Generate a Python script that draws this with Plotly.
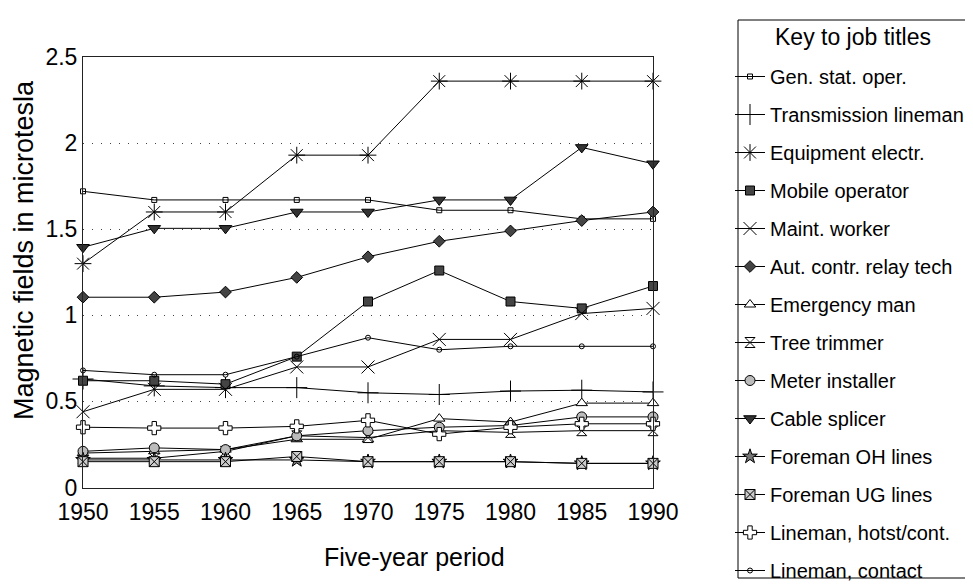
import plotly.graph_objects as go

years = [1950, 1955, 1960, 1965, 1970, 1975, 1980, 1985, 1990]

gen_stat_oper = [1.72, 1.67, 1.67, 1.67, 1.67, 1.61, 1.61, 1.56, 1.56]
transmission_lineman = [0.63, 0.59, 0.58, 0.58, 0.55, 0.54, 0.56, 0.565, 0.555]
equipment_electr = [1.30, 1.60, 1.60, 1.93, 1.93, 2.36, 2.36, 2.36, 2.36]
mobile_operator = [0.62, 0.62, 0.60, 0.76, 1.08, 1.26, 1.08, 1.04, 1.17]
maint_worker = [0.44, 0.57, 0.57, 0.70, 0.70, 0.86, 0.86, 1.01, 1.04]
relay_tech = [1.105, 1.105, 1.135, 1.22, 1.34, 1.43, 1.49, 1.55, 1.60]
emergency_man = [0.20, 0.21, 0.22, 0.28, 0.28, 0.40, 0.38, 0.49, 0.49]
tree_trimmer = [0.17, 0.17, 0.21, 0.30, 0.29, 0.33, 0.32, 0.33, 0.33]
meter_installer = [0.21, 0.23, 0.22, 0.30, 0.33, 0.35, 0.36, 0.41, 0.41]
cable_splicer = [1.395, 1.505, 1.505, 1.60, 1.60, 1.67, 1.67, 1.975, 1.88]
foreman_oh = [0.16, 0.16, 0.16, 0.16, 0.15, 0.15, 0.15, 0.14, 0.14]
foreman_ug = [0.15, 0.15, 0.15, 0.18, 0.15, 0.15, 0.15, 0.14, 0.14]
lineman_hotst = [0.35, 0.345, 0.345, 0.355, 0.39, 0.31, 0.35, 0.37, 0.37]
lineman_contact = [0.68, 0.655, 0.655, 0.76, 0.87, 0.80, 0.82, 0.82, 0.82]

x_ticks = [1950, 1955, 1960, 1965, 1970, 1975, 1980, 1985, 1990]
y_ticks = [0, 0.5, 1, 1.5, 2, 2.5]
y_tick_labels = ["0", "0.5", "1", "1.5", "2", "2.5"]

series = [
    ("Gen. stat. oper.", gen_stat_oper, "square-open", 5, None),
    ("Transmission lineman", transmission_lineman, "cross-thin-open", 15, None),
    ("Equipment electr.", equipment_electr, "asterisk-open", 14, None),
    ("Mobile operator", mobile_operator, "square", 9, "#444"),
    ("Maint. worker", maint_worker, "x-thin-open", 13, None),
    ("Aut. contr. relay tech", relay_tech, "diamond", 9, "#444"),
    ("Emergency man", emergency_man, "triangle-up", 10, "#fff"),
    ("Tree trimmer", tree_trimmer, "hourglass", 10, "#fff"),
    ("Meter installer", meter_installer, "circle", 10, "#bbb"),
    ("Cable splicer", cable_splicer, "triangle-down", 11, "#333"),
    ("Foreman OH lines", foreman_oh, "star", 11, "#777"),
    ("Foreman UG lines", foreman_ug, "square-x", 10, "#ccc"),
    ("Lineman, hotst/cont.", lineman_hotst, "cross", 11, "#fff"),
    ("Lineman, contact", lineman_contact, "circle-open", 5, None),
]

# The page body has an 8px margin: lay the figure out in screen pixels minus it.
OFF = 8
W, H = 973 - OFF, 587 - OFF
ML, MR, MT, MB = 83 - OFF, 320, 2, 2
PW = W - ML - MR
PH = H - MT - MB
AX_BOTTOM, AX_TOP = 487.5, 57.0   # screen pixels


def px_x(p):
    return (p - OFF - ML) / PW


def px_y(p):
    return (H - MB - (p - OFF)) / PH


fig = go.Figure()
for i, (name, vals, sym, size, fc) in enumerate(series):
    fig.add_trace(go.Scatter(
        x=years, y=vals, name=name, mode="lines+markers",
        line=dict(color="#000", width=1),
        marker=dict(symbol=sym, size=size, color=fc if fc else "#000",
                    line=dict(color="#000", width=1)),
        legendgroup=f"g{i}", cliponaxis=False,
    ))

fig.update_layout(
    width=W, height=H,
    margin=dict(l=ML, r=MR, t=MT, b=MB, autoexpand=False),
    paper_bgcolor="white", plot_bgcolor="white",
    font=dict(family="Liberation Sans, Arial, sans-serif", color="#000"),
    showlegend=True,
    legend=dict(
        x=px_x(730), y=px_y(57), xanchor="left", yanchor="top",
        font=dict(size=20, color="#000"),
        tracegroupgap=9, bgcolor="rgba(0,0,0,0)", borderwidth=0,
        itemwidth=30,
    ),
    xaxis=dict(
        range=[1950, 1990], tickmode="array", tickvals=x_ticks,
        ticks="", showgrid=False, zeroline=False, automargin=False,
        showline=True, linecolor="#222", linewidth=1, mirror=True,
        tickfont=dict(size=23), anchor="y", ticklabelstandoff=4,
    ),
    yaxis=dict(
        domain=[px_y(AX_BOTTOM), px_y(AX_TOP)],
        range=[0, 2.5], tickmode="array", tickvals=y_ticks, ticktext=y_tick_labels,
        ticks="", showgrid=True, gridcolor="#444", gridwidth=1, griddash="1px,8px",
        zeroline=False, automargin=False,
        showline=True, linecolor="#222", linewidth=1, mirror=True,
        tickfont=dict(size=23),
    ),
)

# Axis titles
fig.add_annotation(xref="paper", yref="paper", x=px_x(414), y=px_y(557),
                   text="Five-year period", showarrow=False,
                   font=dict(size=25, color="#000"), xanchor="center", yanchor="middle")
fig.add_annotation(xref="paper", yref="paper", x=px_x(24), y=px_y(250),
                   text="Magnetic fields in microtesla", showarrow=False, textangle=-90,
                   font=dict(size=27, color="#000"), xanchor="center", yanchor="middle")

# Legend box and title
fig.add_shape(type="rect", xref="paper", yref="paper",
              x0=px_x(738), x1=px_x(968), y0=px_y(578), y1=px_y(20),
              line=dict(color="#000", width=1), fillcolor="rgba(0,0,0,0)")
fig.add_annotation(xref="paper", yref="paper", x=px_x(853), y=px_y(37),
                   text="Key to job titles", showarrow=False,
                   font=dict(size=23, color="#000"), xanchor="center", yanchor="middle")

fig.write_html("out.html")
